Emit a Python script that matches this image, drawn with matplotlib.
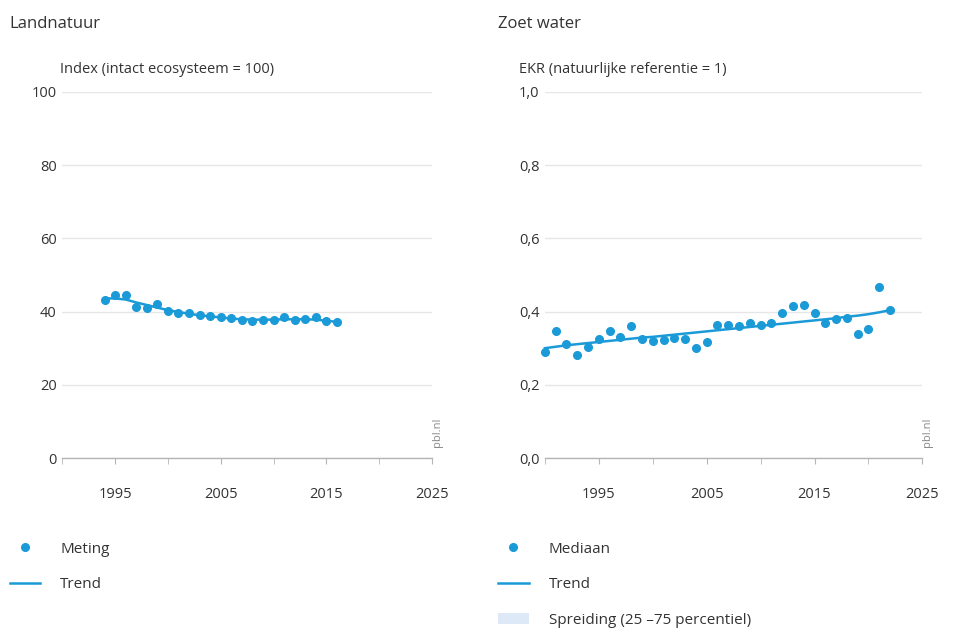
import matplotlib
matplotlib.use('Agg')
import matplotlib.pyplot as plt
from matplotlib.patches import Patch
from matplotlib.ticker import FuncFormatter, MultipleLocator

plt.rcParams['font.family'] = ['Open Sans', 'DejaVu Sans']

# Landnatuur: index (intact ecosysteem = 100)
land_jaren = list(range(1994, 2017))
land_meting = [43.3, 44.4, 44.6, 41.3, 41.0, 42.2, 40.1, 39.6, 39.6, 39.0, 38.7, 38.5,
               38.2, 37.6, 37.4, 37.6, 37.6, 38.4, 37.6, 37.9, 38.6, 37.3, 37.1]
land_trend = [43.6, 43.6, 43.3, 42.5, 41.8, 41.1, 40.4, 39.9, 39.4, 39.0, 38.7, 38.4,
              38.1, 37.9, 37.8, 37.8, 37.8, 37.9, 37.9, 37.9, 37.8, 37.5, 37.2]

# Zoet water: EKR (natuurlijke referentie = 1)
water_jaren = list(range(1990, 2023))
water_mediaan = [0.290, 0.347, 0.311, 0.281, 0.303, 0.325, 0.347, 0.331, 0.360, 0.325,
                 0.320, 0.322, 0.328, 0.325, 0.300, 0.318, 0.363, 0.363, 0.360, 0.368,
                 0.363, 0.368, 0.395, 0.415, 0.418, 0.395, 0.368, 0.380, 0.383, 0.340,
                 0.352, 0.467, 0.404]
water_trend = [0.300, 0.304, 0.308, 0.311, 0.314, 0.317, 0.320, 0.323, 0.326, 0.329,
               0.331, 0.334, 0.337, 0.340, 0.343, 0.346, 0.349, 0.352, 0.355, 0.358,
               0.361, 0.364, 0.367, 0.370, 0.373, 0.376, 0.379, 0.382, 0.386, 0.389,
               0.393, 0.398, 0.404]

blauw = '#1b9ad8'
tekst = '#333333'

fig = plt.figure(figsize=(9.73, 6.3), dpi=100)


def opmaak(ax, ymax, fmt):
    ax.set_xlim(1990, 2025)
    ax.set_ylim(0, ymax)
    ax.set_xticks([1995, 2005, 2015, 2025])
    ax.xaxis.set_minor_locator(MultipleLocator(5))
    ax.set_yticks([ymax * i / 5 for i in range(6)])
    ax.yaxis.set_major_formatter(FuncFormatter(fmt))
    for s in ['top', 'right', 'left']:
        ax.spines[s].set_visible(False)
    ax.spines['bottom'].set_color('#b5b5b5')
    ax.spines['bottom'].set_linewidth(1)
    ax.grid(axis='y', color='#e6e6e6', linewidth=1)
    ax.set_axisbelow(True)
    ax.tick_params(axis='y', length=0, pad=4, labelsize=10.5, labelcolor=tekst)
    ax.tick_params(axis='x', which='both', length=4, color='#b5b5b5',
                   pad=17, labelsize=10.5, labelcolor=tekst)
    ax.text(1.0, 0.03, 'pbl.nl', transform=ax.transAxes, rotation=90,
            fontsize=8, color='#888888', ha='left', va='bottom')


# linker grafiek
ax1 = fig.add_axes([0.064, 0.273, 0.38, 0.581])
opmaak(ax1, 100, lambda v, p: f'{v:.0f}')
l1, = ax1.plot(land_jaren, land_trend, color=blauw, lw=1.8, clip_on=False)
m1, = ax1.plot(land_jaren, land_meting, 'o', color=blauw, ms=5.5, clip_on=False)
fig.text(0.010, 0.962, 'Landnatuur', fontsize=12, color=tekst, va='center')
fig.text(0.062, 0.889, 'Index (intact ecosysteem = 100)', fontsize=10.5,
         color=tekst, va='center')
fig.legend(handles=[m1, l1], labels=['Meting', 'Trend'], loc='upper left',
           bbox_to_anchor=(0.010, 0.140), frameon=False, fontsize=11,
           labelspacing=1.35, handlelength=2.0, handletextpad=1.3,
           borderpad=0, borderaxespad=0, labelcolor=tekst)

# rechter grafiek
ax2 = fig.add_axes([0.560, 0.273, 0.388, 0.581])
opmaak(ax2, 1.0, lambda v, p: f'{v:.1f}'.replace('.', ','))
l2, = ax2.plot(water_jaren, water_trend, color=blauw, lw=1.8, clip_on=False)
m2, = ax2.plot(water_jaren, water_mediaan, 'o', color=blauw, ms=5.5, clip_on=False)
fig.text(0.512, 0.962, 'Zoet water', fontsize=12, color=tekst, va='center')
fig.text(0.533, 0.889, 'EKR (natuurlijke referentie = 1)', fontsize=10.5,
         color=tekst, va='center')
band = Patch(facecolor='#dde9f6', edgecolor='none')
fig.legend(handles=[m2, l2, band],
           labels=['Mediaan', 'Trend', 'Spreiding (25 \u201375 percentiel)'],
           loc='upper left', bbox_to_anchor=(0.512, 0.140), frameon=False,
           fontsize=11, labelspacing=1.35, handlelength=2.0, handletextpad=1.3,
           borderpad=0, borderaxespad=0, labelcolor=tekst)

fig.savefig('out.png', dpi=100)
